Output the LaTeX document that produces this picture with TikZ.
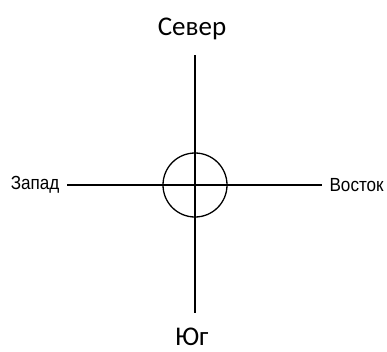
\documentclass[tikz,border=0pt]{standalone}
\usepackage{fontspec}
\setmainfont{Carlito}
\newfontfamily\arialfont{Liberation Sans}
\usetikzlibrary{positioning}

\begin{document}
\begin{tikzpicture}[x=1pt, y=-1pt, line width=1.3pt,
    bigname/.style={font=\fontsize{27}{27}\selectfont, inner sep=0pt},
    sidename/.style={font=\arialfont\fontsize{19}{19}\selectfont, inner sep=0pt, xscale=0.9}]
\useasboundingbox (0,0) rectangle (387,351);
% Centre mark
\node[draw, circle, minimum size=64pt, inner sep=0pt] (ring) at (195,185) {};
\fill (ring.center) circle (1.6pt);
% Axis ends
\coordinate (top) at (195,55);
\coordinate (bottom) at (195,313);
\coordinate (left) at (67,185);
\coordinate (right) at (322,185);
\draw (top) -- (bottom);
\draw (left) -- (right);
% Labels
\node[bigname, anchor=base] (north) at (192,35) {Север};
\node[bigname, anchor=base] (south) at (192,345) {Юг};
\node[sidename, anchor=east] (west) at (60,185) {Запад};
\node[sidename, anchor=west] (east) at (329,185) {Восток};
\end{tikzpicture}
\end{document}
